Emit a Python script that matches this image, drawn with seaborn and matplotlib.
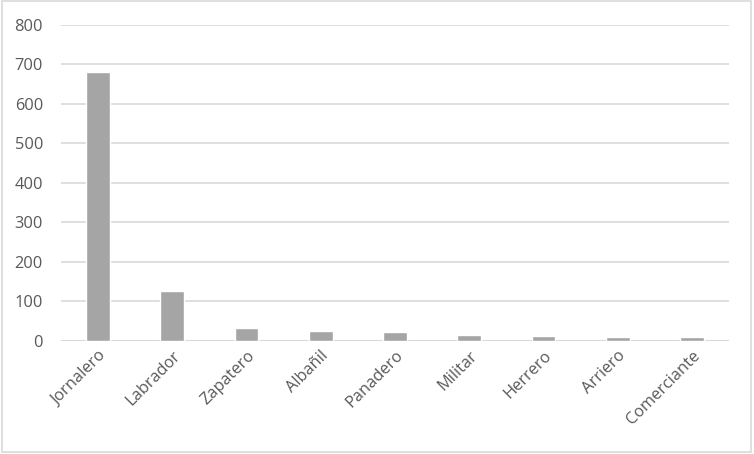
import pandas as pd
import matplotlib.pyplot as plt
import seaborn as sns

# occupations and counts
oficios = ['Jornalero', 'Labrador', 'Zapatero', 'Albañil', 'Panadero',
           'Militar', 'Herrero', 'Arriero', 'Comerciante']
conteos = [680, 125, 33, 25, 23, 15, 12, 10, 10]
y_ticks = [0, 100, 200, 300, 400, 500, 600, 700, 800]

df = pd.DataFrame({'Oficio': oficios, 'Conteo': conteos})

sns.set_style('white')
plt.rcParams['font.family'] = ['Open Sans', 'DejaVu Sans']

fig = plt.figure(figsize=(7.54, 4.54), dpi=100)
ax = fig.add_axes([61 / 754, 1 - 340.7 / 454, 668 / 754, 316 / 454])

sns.barplot(data=df, x='Oficio', y='Conteo', color='#A5A5A5',
            width=0.32, saturation=1, ax=ax, zorder=3)

ax.set_ylim(0, 800)
ax.set_yticks(y_ticks)
ax.set_xlim(-0.5, len(oficios) - 0.5)
ax.grid(axis='y', color='#D9D9D9', linewidth=1.2, zorder=0)
for s in ax.spines.values():
    s.set_visible(False)
ax.axhline(0, color='#D9D9D9', linewidth=1.5, zorder=2)

ax.set_xlabel('')
ax.set_ylabel('')
ax.tick_params(axis='both', length=0, colors='#595959', labelsize=11.8)
ax.tick_params(axis='y', pad=13)
ax.tick_params(axis='x', pad=5)
plt.setp(ax.get_xticklabels(), rotation=45, ha='right',
         rotation_mode='anchor')

# light frame around the whole chart
fig.patches.append(plt.Rectangle((0.002, 0.004), 0.994, 0.993,
                                 transform=fig.transFigure, fill=False,
                                 edgecolor='#D9D9D9', linewidth=1.2))

fig.savefig('out.png', dpi=100)
